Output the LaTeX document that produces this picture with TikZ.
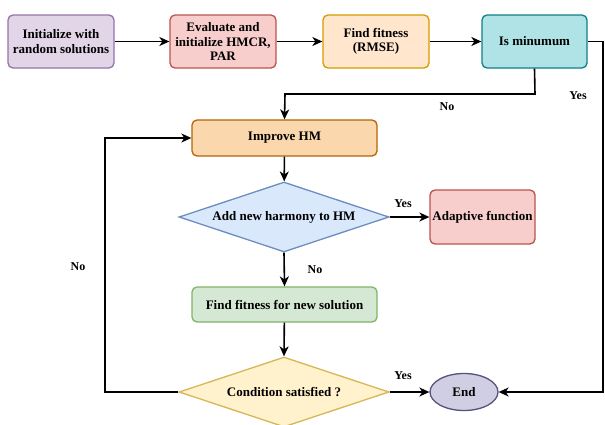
\documentclass[tikz,border=0pt]{standalone}
\usepackage{fontspec}
\setmainfont{Liberation Serif}[BoldFont={Liberation Serif Bold}]
\usetikzlibrary{shapes.geometric,arrows.meta}
\definecolor{initF}{HTML}{E1D5E7}\definecolor{initD}{HTML}{9673A6}
\definecolor{evalF}{HTML}{F8CECC}\definecolor{evalD}{HTML}{B85450}
\definecolor{fitF}{HTML}{FFE6CC}\definecolor{fitD}{HTML}{D79B00}
\definecolor{minF}{HTML}{B0E3E6}\definecolor{minD}{HTML}{0E8088}
\definecolor{impF}{HTML}{FAD7AC}\definecolor{impD}{HTML}{B46504}
\definecolor{addF}{HTML}{DAE8FC}\definecolor{addD}{HTML}{6C8EBF}
\definecolor{grnF}{HTML}{D5E8D4}\definecolor{grnD}{HTML}{82B366}
\definecolor{conF}{HTML}{FFF2CC}\definecolor{conD}{HTML}{D6B656}
\definecolor{endF}{HTML}{D0CEE2}\definecolor{endD}{HTML}{56517E}
\tikzset{
  box/.style={rectangle, rounded corners=5pt, line width=1.3pt, align=center,
    font=\fontsize{13}{14.5}\selectfont\bfseries, inner sep=0pt},
  dia/.style={diamond, aspect=3, line width=1.3pt, align=center,
    font=\fontsize{13}{14.5}\selectfont\bfseries, inner sep=0pt},
  conn/.style={line width=1.6pt, -{Stealth[length=10pt,width=9pt,inset=3pt]}},
  lbl/.style={font=\fontsize{12}{13}\selectfont\bfseries}
}
\begin{document}
\begin{tikzpicture}[x=1pt,y=-1pt]
\useasboundingbox[fill=white] (0,0) rectangle (605,424);
\node[box, fill=initF, draw=initD, minimum width=106pt, minimum height=53pt] (init) at (61,41.5) {Initialize with\\random solutions};
\node[box, fill=evalF, draw=evalD, minimum width=106pt, minimum height=53pt] (eval) at (223,41.5) {Evaluate and\\initialize HMCR,\\PAR};
\node[box, fill=fitF, draw=fitD, minimum width=106pt, minimum height=53pt] (fit) at (376,41.5) {Find fitness\\(RMSE)};
\node[box, fill=minF, draw=minD, minimum width=105pt, minimum height=53pt] (min) at (534.5,41.5) {Is minumum};
\node[box, fill=impF, draw=impD, minimum width=185pt, minimum height=36pt] (imp) at (284.5,138) {Improve HM};
\node[dia, fill=addF, draw=addD, minimum width=210pt, minimum height=70pt] (add) at (284,217) {Add new harmony to HM};
\node[box, fill=evalF, draw=evalD, minimum width=105pt, minimum height=54pt] (ada) at (482.5,217) {Adaptive function};
\node[box, fill=grnF, draw=grnD, minimum width=185pt, minimum height=35pt] (nfit) at (284.5,304.5) {Find fitness for new solution};
\node[dia, fill=conF, draw=conD, minimum width=210pt, minimum height=70pt] (cond) at (284,392) {Condition satisfied ?};
\node[ellipse, fill=endF, draw=endD, line width=1.3pt, minimum width=68pt, minimum height=37pt, inner sep=0pt, font=\fontsize{13}{14.5}\selectfont\bfseries] (end) at (464,392) {End};
\coordinate (c1) at (535,94);
\coordinate (c2) at (285,94);
\coordinate (c3) at (603,41.5);
\coordinate (c4) at (603,392);
\coordinate (c5) at (105,392);
\coordinate (c6) at (105,138);
\draw[conn] (init) -- (eval);
\draw[conn] (eval) -- (fit);
\draw[conn] (fit) -- (min);
\draw[conn] (min.south) -- (c1) -- (c2) -- (imp.north);
\draw[conn] (min.east) -- (c3) -- (c4) -- (end.east);
\draw[conn] (imp) -- (add);
\draw[conn] (add.east) -- (ada.west);
\draw[conn] (add.south) -- (nfit.north);
\draw[conn] (nfit) -- (cond.north);
\draw[conn] (cond.east) -- (end.west);
\draw[conn] (cond.west) -- (c5) -- (c6) -- (imp.west);
\node[lbl] (l1) at (447,107) {No};
\node[lbl] (l2) at (578,96) {Yes};
\node[lbl] (l3) at (403,204) {Yes};
\node[lbl] (l4) at (315,270) {No};
\node[lbl] (l5) at (78,267) {No};
\node[lbl] (l6) at (403,376) {Yes};
\end{tikzpicture}
\end{document}
